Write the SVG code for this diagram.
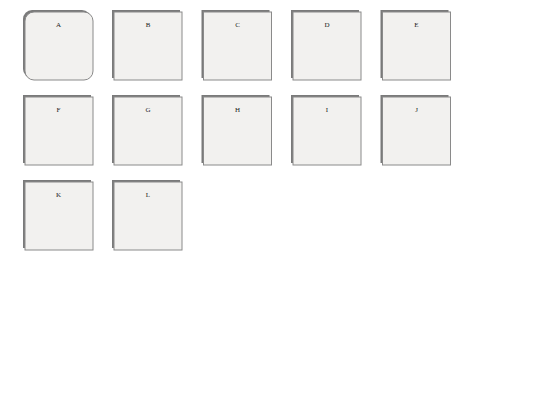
<svg xmlns="http://www.w3.org/2000/svg" width="540" height="405" viewBox="0 0 540 405">
<style>
.sh{fill:#7a7a7a}
.bx{fill:#f2f1ef;stroke:#8a8a8a;stroke-width:1}
.lb{font-family:"Liberation Serif",serif;font-size:7px;fill:#222;text-anchor:middle}
</style>
<rect width="540" height="405" fill="#fff"/>
<g id="A"><rect class="sh" x="23" y="10" width="68" height="68" rx="9"/><rect class="bx" x="25" y="12" width="68" height="68" rx="9"/><text class="lb" x="58.5" y="27">A</text></g>
<g id="B"><rect class="sh" x="112" y="10" width="68" height="68"/><rect class="bx" x="114" y="12" width="68" height="68"/><text class="lb" x="148" y="27">B</text></g>
<g id="C"><rect class="sh" x="201.5" y="10" width="68" height="68"/><rect class="bx" x="203.5" y="12" width="68" height="68"/><text class="lb" x="237.5" y="27">C</text></g>
<g id="D"><rect class="sh" x="291" y="10" width="68" height="68"/><rect class="bx" x="293" y="12" width="68" height="68"/><text class="lb" x="327" y="27">D</text></g>
<g id="E"><rect class="sh" x="380.5" y="10" width="68" height="68"/><rect class="bx" x="382.5" y="12" width="68" height="68"/><text class="lb" x="416.5" y="27">E</text></g>
<g id="F"><rect class="sh" x="23" y="95" width="68" height="68"/><rect class="bx" x="25" y="97" width="68" height="68"/><text class="lb" x="58.5" y="112">F</text></g>
<g id="G"><rect class="sh" x="112" y="95" width="68" height="68"/><rect class="bx" x="114" y="97" width="68" height="68"/><text class="lb" x="148" y="112">G</text></g>
<g id="H"><rect class="sh" x="201.5" y="95" width="68" height="68"/><rect class="bx" x="203.5" y="97" width="68" height="68"/><text class="lb" x="237.5" y="112">H</text></g>
<g id="I"><rect class="sh" x="291" y="95" width="68" height="68"/><rect class="bx" x="293" y="97" width="68" height="68"/><text class="lb" x="327" y="112">I</text></g>
<g id="J"><rect class="sh" x="380.5" y="95" width="68" height="68"/><rect class="bx" x="382.5" y="97" width="68" height="68"/><text class="lb" x="416.5" y="112">J</text></g>
<g id="K"><rect class="sh" x="23" y="180" width="68" height="68"/><rect class="bx" x="25" y="182" width="68" height="68"/><text class="lb" x="58.5" y="197">K</text></g>
<g id="L"><rect class="sh" x="112" y="180" width="68" height="68"/><rect class="bx" x="114" y="182" width="68" height="68"/><text class="lb" x="148" y="197">L</text></g>
<g id="connectors"></g>
</svg>
